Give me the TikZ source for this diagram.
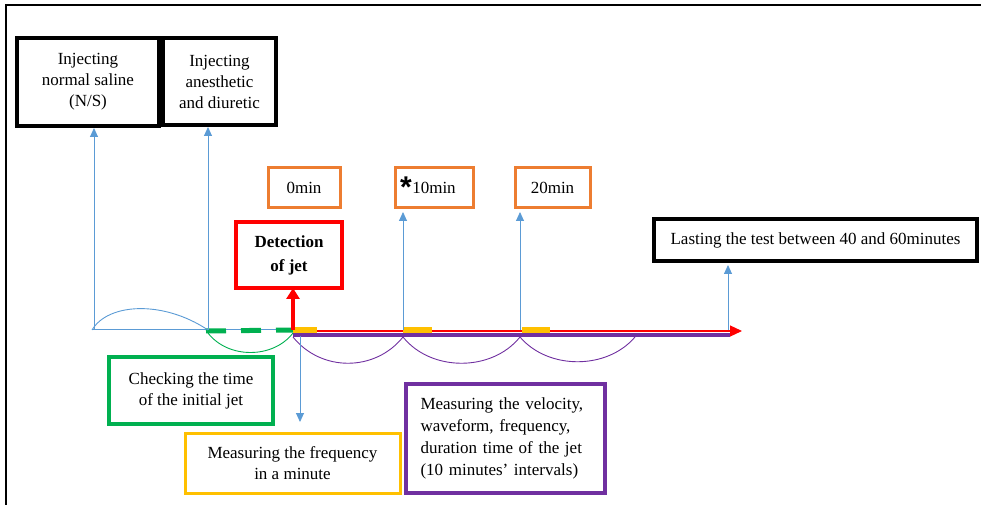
\documentclass[tikz,border=0pt]{standalone}
\usepackage{fontspec}
\setmainfont{Liberation Serif}
\newfontfamily\starfont{Liberation Sans}
\usetikzlibrary{arrows.meta}

\definecolor{cblue}{RGB}{91,155,213}
\definecolor{corange}{RGB}{237,125,49}
\definecolor{cgreen}{RGB}{0,176,80}
\definecolor{cyellow}{RGB}{255,192,0}
\definecolor{cpurple}{RGB}{112,48,160}
\definecolor{cred}{RGB}{255,0,0}

\tikzset{
  box/.style={draw, inner sep=0pt, outer sep=0pt, align=center,
    font=\fontsize{17bp}{21bp}\selectfont},
  blackbox/.style={box, line width=3.5bp, draw=black},
  minbox/.style={box, line width=3bp, draw=corange},
  bluearr/.style={draw=cblue, line width=0.9bp, -{Triangle[width=8bp,length=9bp]}},
  arcline/.style={line width=0.9bp},
}

\begin{document}
\begin{tikzpicture}[x=1bp,y=-1bp]
\useasboundingbox (0,0) rectangle (981,505);

% frame
\draw[line width=2bp] (5.5,505) -- (5.5,5) -- (981,5);

% boxes above the time line
\node[blackbox, minimum width=142bp, minimum height=88bp] (ns) at (88,82)
  {Injecting\\normal saline\\(N/S)};
\node[blackbox, minimum width=113bp, minimum height=87bp] (ad) at (219.5,81.5)
  {Injecting\\anesthetic\\and diuretic};
\node[minbox, minimum width=72bp, minimum height=40bp] (m0) at (304,188) {0min};
\node[minbox, minimum width=78bp, minimum height=40bp] (m10) at (434,188)
  {\makebox[0pt][r]{\raisebox{-4bp}[0pt][0pt]{\starfont\fontsize{30bp}{30bp}\selectfont\bfseries *}\hspace{0.5bp}}10min};
\node[minbox, minimum width=75bp, minimum height=40bp] (m20) at (552.5,188) {20min};
\node[box, line width=4bp, draw=cred, minimum width=106bp, minimum height=66bp,
  font=\fontsize{17bp}{24bp}\selectfont\bfseries] (det) at (289,255)
  {Detection\\of jet};
\node[blackbox, minimum width=323bp, minimum height=42bp] (last) at (815.5,240)
  {Lasting the test between 40 and 60minutes};

% boxes below the time line
\node[box, line width=4bp, draw=cgreen, minimum width=164bp, minimum height=67bp] (chk)
  at (191,390.5) {Checking the time\\of the initial jet};
\node[box, line width=3bp, draw=cyellow, minimum width=215bp, minimum height=60bp] (freq)
  at (292.5,463) {Measuring the frequency\\in a minute};
\node[box, line width=4bp, draw=cpurple, text width=170bp, inner xsep=14.5bp,
  minimum height=109bp, align=left, font=\fontsize{17bp}{22bp}\selectfont] (meas)
  at (505.5,438.5)
  {Measuring the velocity,\\waveform, frequency,\\duration time of the jet\\(10 minutes’ intervals)};

% points on the time line
\coordinate (t1) at (94,330);
\coordinate (t2) at (208,330);
\coordinate (t3) at (293,330);
\coordinate (t4) at (403,330);
\coordinate (t5) at (520,330);
\coordinate (t6) at (728,330);
\coordinate (tend) at (742,331);
\coordinate (fd) at (300,336);

% time line
\draw[cblue, line width=1bp] (92,330) -- (t3);
\draw[cgreen, line width=5bp, dash pattern=on 20bp off 15bp] (206,331) -- (t3);
\draw[cpurple, line width=4.5bp] (293,335) -- (730,335);
\draw[cred, line width=1.2bp, -{Triangle[width=11bp,length=12bp]}] (t3) ++(0,1) -- (tend);
\foreach \a/\b in {293/317, 403/432, 522/550}
  \draw[cyellow, line width=6.5bp] (\a,330) -- (\b,330);

% arcs
\draw[cblue, arcline] (92,330) .. controls +(16,-27) and +(-45,-30) .. (t2);
\draw[cgreen, arcline] (208,333) .. controls +(20,26) and +(-20,26) .. (293,333);
\draw[cpurple, arcline] (293,337) .. controls +(28,35) and +(-28,35) .. (403,337);
\draw[cpurple, arcline] (403,337) .. controls +(28,35) and +(-28,35) .. (520,337);
\draw[cpurple, arcline] (520,337) .. controls +(28,33) and +(-28,33) .. (635,337);

% connectors
\draw[bluearr, shorten >=2bp] (t1) -- (t1 |- ns.south);
\draw[bluearr, shorten >=2bp] (t2) -- (t2 |- ad.south);
\draw[bluearr, shorten >=4bp] (t4) -- (t4 |- m10.south);
\draw[bluearr, shorten >=4bp] (t5) -- (t5 |- m20.south);
\draw[bluearr, shorten >=4bp] (t6) -- (t6 |- last.south);
\draw[bluearr, shorten >=11bp] (fd) -- (fd |- freq.north);
\draw[cred, line width=4bp, -{Triangle[width=13bp,length=11bp]}] (t3) -- (t3 |- det.south);
\end{tikzpicture}
\end{document}
